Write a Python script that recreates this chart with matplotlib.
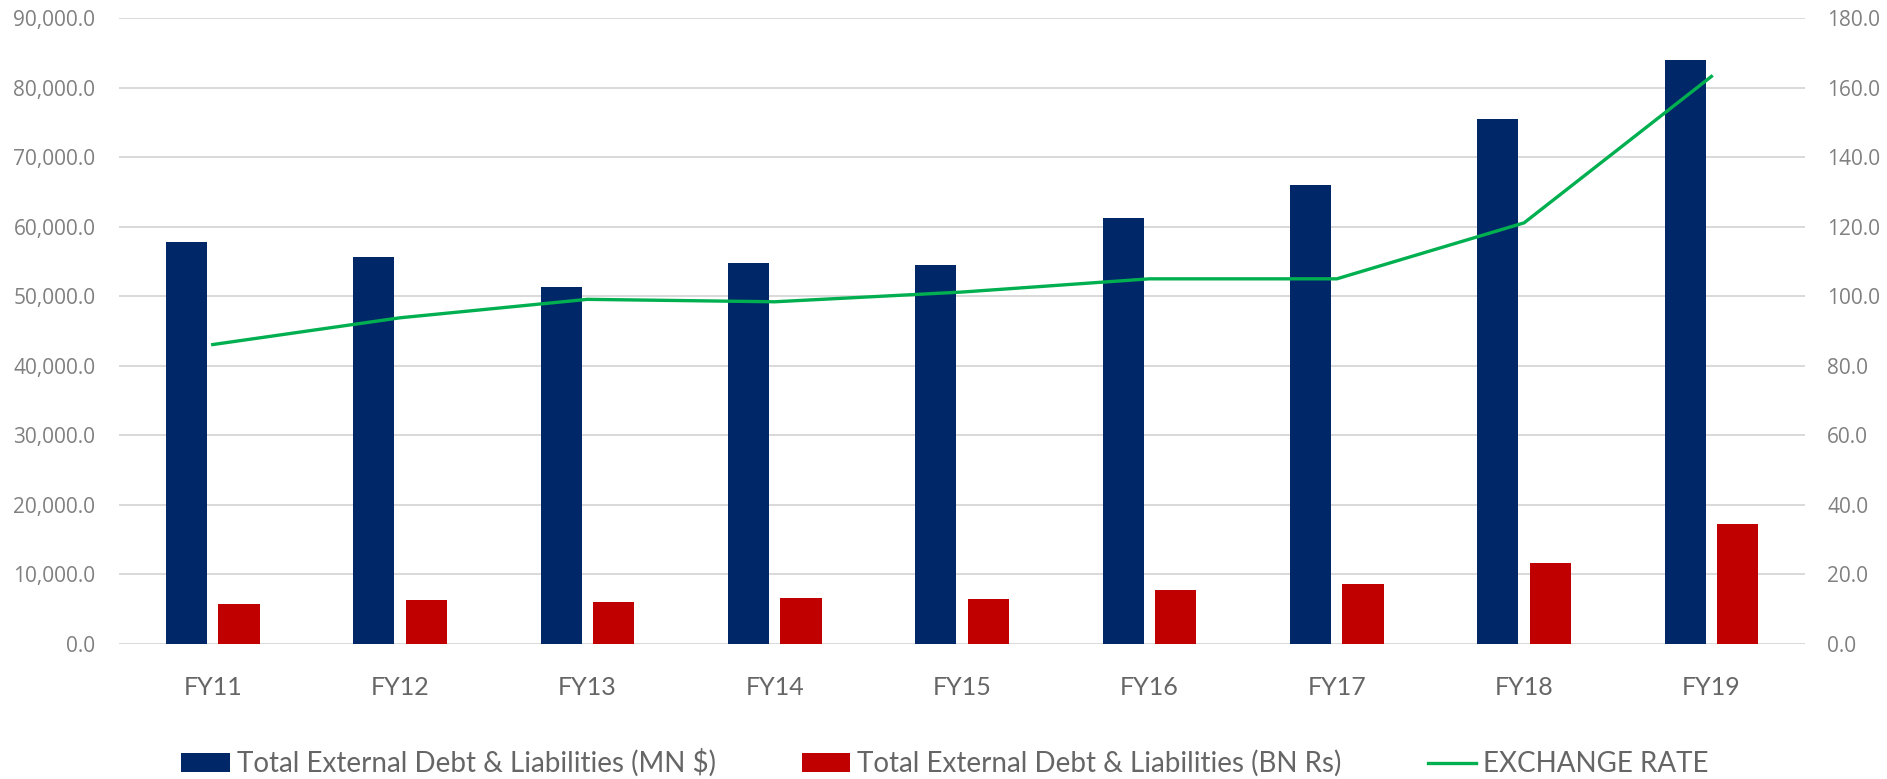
import numpy as np
import matplotlib
matplotlib.use("Agg")
import matplotlib.pyplot as plt
from matplotlib.ticker import FuncFormatter

# Data
years = ['FY11', 'FY12', 'FY13', 'FY14', 'FY15', 'FY16', 'FY17', 'FY18', 'FY19']
debt_usd_mn = [57750, 55700, 51300, 54800, 54550, 61250, 66000, 75450, 84000]
debt_rs_bn = [5680, 6360, 6020, 6600, 6520, 7730, 8600, 11600, 17200]
exchange_rate = [86.1, 93.8, 99.1, 98.4, 101.2, 105.0, 105.0, 121.1, 163.2]

blue = '#002868'
red = '#C00000'
green = '#00B050'
label_font = ['Lato', 'DejaVu Sans']
tick_font = ['Open Sans', 'DejaVu Sans']

fig = plt.figure(figsize=(18.87, 7.79), dpi=100)
ax = fig.add_axes([0.0631, 0.1733, 0.8935, 0.8036])
ax2 = ax.twinx()

x = np.arange(len(years))
w = 0.22
ax.bar(x - 0.14, debt_usd_mn, width=w, color=blue, zorder=3,
       label='Total External Debt & Liabilities (MN $)')
ax.bar(x + 0.14, debt_rs_bn, width=w, color=red, zorder=3,
       label='Total External Debt & Liabilities (BN Rs)')
ax2.plot(x, exchange_rate, color=green, linewidth=2.4,
         label='EXCHANGE RATE')

ax.set_xlim(-0.5, len(years) - 0.5)
ax.set_ylim(0, 90000)
ax.set_yticks(np.arange(0, 90001, 10000))
ax.yaxis.set_major_formatter(FuncFormatter(lambda v, p: f'{v:,.1f}'))
ax2.set_ylim(0, 180)
ax2.set_yticks(np.arange(0, 181, 20))
ax2.yaxis.set_major_formatter(FuncFormatter(lambda v, p: f'{v:.1f}'))

ax.grid(axis='y', color='#d9d9d9', linewidth=1.4, zorder=0)
ax.set_axisbelow(True)
for a in (ax, ax2):
    for s in a.spines.values():
        s.set_visible(False)
    a.tick_params(length=0)

ax.set_xticks(x)
ax.set_xticklabels(years, family=label_font, fontsize=18, color='#666666')
ax.tick_params(axis='x', pad=23)
for a, pad in ((ax, 17), (ax2, 16)):
    a.tick_params(axis='y', labelsize=15, labelcolor='#808080', pad=pad)
    for t in a.get_yticklabels():
        t.set_family(tick_font)

h1, l1 = ax.get_legend_handles_labels()
h2, l2 = ax2.get_legend_handles_labels()
fig.legend(h1 + h2, l1 + l2, loc='center', bbox_to_anchor=(0.5008, 0.0205),
           ncol=3, frameon=False, prop={'family': label_font, 'size': 20},
           labelcolor='#666666', handlelength=1.75, handleheight=0.65,
           handletextpad=0.25, columnspacing=3.1)

fig.savefig('out.png', dpi=100)
